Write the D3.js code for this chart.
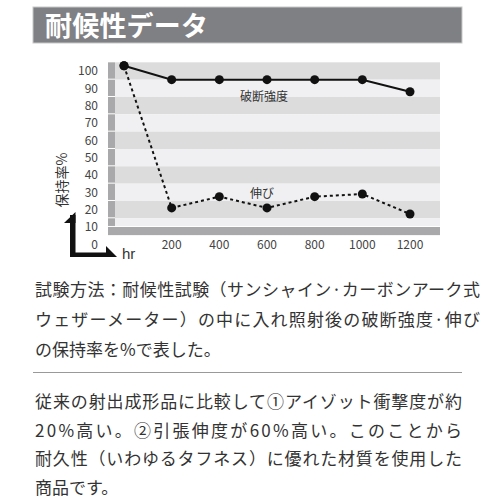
<!DOCTYPE html>
<html>
<head>
<meta charset="utf-8">
<script src="https://cdn.jsdelivr.net/npm/d3@7"></script>
<style>
  body { margin: 0; background: #fff; }
  svg { display: block; font-family: "Noto Sans CJK JP", "Noto Sans", sans-serif; }
</style>
</head>
<body>
<div id="chart"></div>
<script>
// data
const hours = [0, 200, 400, 600, 800, 1000, 1200];
const strength = [103, 95, 95, 95, 95, 95, 88];   // 破断強度
const elongation = [103, 21, 27.5, 21, 27.5, 29, 17.5]; // 伸び
const yTicks = [0, 10, 20, 30, 40, 50, 60, 70, 80, 90, 100];
const xTicks = [200, 400, 600, 800, 1000, 1200];
const bandValues = [100, 90, 80, 70, 60, 50, 40, 30, 20, 10];

const title = "耐候性データ";
const note1 = [
  "試験方法：耐候性試験（サンシャイン·カーボンアーク式",
  "ウェザーメーター）の中に入れ照射後の破断強度·伸び",
  "の保持率を%で表した。"
];
const note2 = [
  "従来の射出成形品に比較して①アイゾット衝撃度が約",
  "20%高い。②引張伸度が60%高い。このことから",
  "耐久性（いわゆるタフネス）に優れた材質を使用した",
  "商品です。"
];

const svg = d3.select("#chart").append("svg")
  .attr("width", 500)
  .attr("height", 500);

// title bar
svg.append("rect")
  .attr("x", 33).attr("y", 7)
  .attr("width", 429).attr("height", 36)
  .attr("fill", "#7f8084")
  .attr("stroke", "#c8c8c8").attr("stroke-width", 1);
svg.append("text")
  .attr("x", 45).attr("y", 36)
  .attr("fill", "#fff")
  .attr("font-size", 27)
  .attr("font-weight", "bold")
  .attr("textLength", 163)
  .text(title);

const x = d3.scaleLinear().domain([0, 1200]).range([124, 410]);
const y = d3.scaleLinear().domain([0, 100]).range([244.3, 71]);

const plotLeft = 108, stripW = 7, plotRight = 440;

// stripes
const g = svg.append("g");
g.selectAll("rect.band")
  .data(bandValues)
  .enter().append("rect")
  .attr("class", "band")
  .attr("x", plotLeft + stripW)
  .attr("y", d => y(d + 5))
  .attr("width", plotRight - plotLeft - stripW)
  .attr("height", d => y(Math.max(d - 5, 10)) - y(d + 5))
  .attr("fill", (d, i) => i % 2 === 0 ? "#dcdcdd" : "#f0f0f2");

// left dark strip, split at band edges
g.selectAll("rect.strip")
  .data(bandValues)
  .enter().append("rect")
  .attr("class", "strip")
  .attr("x", plotLeft)
  .attr("y", d => y(d + 5))
  .attr("width", stripW)
  .attr("height", d => y(Math.max(d - 5, 10)) - y(d + 5) - 1)
  .attr("fill", "#a9a9ab");

// bottom dark band
g.append("rect")
  .attr("x", plotLeft)
  .attr("y", y(10))
  .attr("width", plotRight - plotLeft)
  .attr("height", y(5.3) - y(10))
  .attr("fill", "#a9a9ab");
g.append("line")
  .attr("x1", plotLeft + stripW).attr("x2", plotRight)
  .attr("y1", y(10) - 0.5).attr("y2", y(10) - 0.5)
  .attr("stroke", "#fff").attr("stroke-width", 1);

// y tick labels
svg.append("g").selectAll("text")
  .data(yTicks)
  .enter().append("text")
  .attr("x", 98)
  .attr("y", d => y(d))
  .attr("dy", "0.36em")
  .attr("text-anchor", "end")
  .attr("font-size", 12)
  .attr("fill", "#444")
  .text(d => d);

// x tick labels
svg.append("g").selectAll("text")
  .data(xTicks)
  .enter().append("text")
  .attr("x", d => x(d))
  .attr("y", 244.3)
  .attr("dy", "0.36em")
  .attr("text-anchor", "middle")
  .attr("font-size", 12)
  .attr("fill", "#444")
  .text(d => d);

// axis title
svg.append("text")
  .attr("transform", "translate(67,180) rotate(-90)")
  .attr("text-anchor", "middle")
  .attr("font-size", 14)
  .attr("fill", "#333")
  .text("保持率%");

// L arrow
const arrow = svg.append("g").attr("fill", "#111");
arrow.append("rect").attr("x", 70).attr("y", 215).attr("width", 5.5).attr("height", 42);
arrow.append("polygon").attr("points", "75.5,212 64,223 70,223 75.5,223");
arrow.append("rect").attr("x", 70).attr("y", 252.5).attr("width", 38).attr("height", 4.5);
arrow.append("polygon").attr("points", "106,246 117,257 106,257");
svg.append("text")
  .attr("x", 122).attr("y", 259)
  .attr("font-size", 15)
  .attr("fill", "#333")
  .attr("font-family", "Liberation Sans, Arial, sans-serif")
  .text("hr");

// lines
const line = d3.line()
  .x((d, i) => x(hours[i]))
  .y(d => y(d));

svg.append("path")
  .datum(elongation)
  .attr("d", line)
  .attr("fill", "none")
  .attr("stroke", "#111")
  .attr("stroke-width", 2)
  .attr("stroke-dasharray", "3,3");

svg.append("path")
  .datum(strength)
  .attr("d", line)
  .attr("fill", "none")
  .attr("stroke", "#111")
  .attr("stroke-width", 2);

[strength, elongation].forEach(series => {
  svg.append("g").selectAll("circle")
    .data(series)
    .enter().append("circle")
    .attr("cx", (d, i) => x(hours[i]))
    .attr("cy", d => y(d))
    .attr("r", 4.5)
    .attr("fill", "#111");
});

// series labels
svg.append("text")
  .attr("x", 240).attr("y", 97)
  .attr("dy", "0.36em")
  .attr("font-size", 12)
  .attr("fill", "#333")
  .text("破断強度");
svg.append("text")
  .attr("x", 250).attr("y", 194)
  .attr("dy", "0.36em")
  .attr("font-size", 12)
  .attr("fill", "#333")
  .text("伸び");

// notes
const t1 = svg.append("g").attr("fill", "#333").attr("font-size", 17);
t1.selectAll("text")
  .data(note1)
  .enter().append("text")
  .attr("x", 35)
  .attr("y", (d, i) => 296 + i * 30)
  .attr("textLength", (d, i) => i < 2 ? 445 : null)
  .attr("lengthAdjust", "spacing")
  .text(d => d);

svg.append("line")
  .attr("x1", 33).attr("x2", 462)
  .attr("y1", 372.5).attr("y2", 372.5)
  .attr("stroke", "#999").attr("stroke-width", 1.2);

const t2 = svg.append("g").attr("fill", "#333").attr("font-size", 17);
t2.selectAll("text")
  .data(note2)
  .enter().append("text")
  .attr("x", 35)
  .attr("y", (d, i) => 408 + i * 28.5)
  .attr("textLength", (d, i) => i < 3 ? 427 : null)
  .attr("lengthAdjust", "spacing")
  .text(d => d);
</script>
</body>
</html>
